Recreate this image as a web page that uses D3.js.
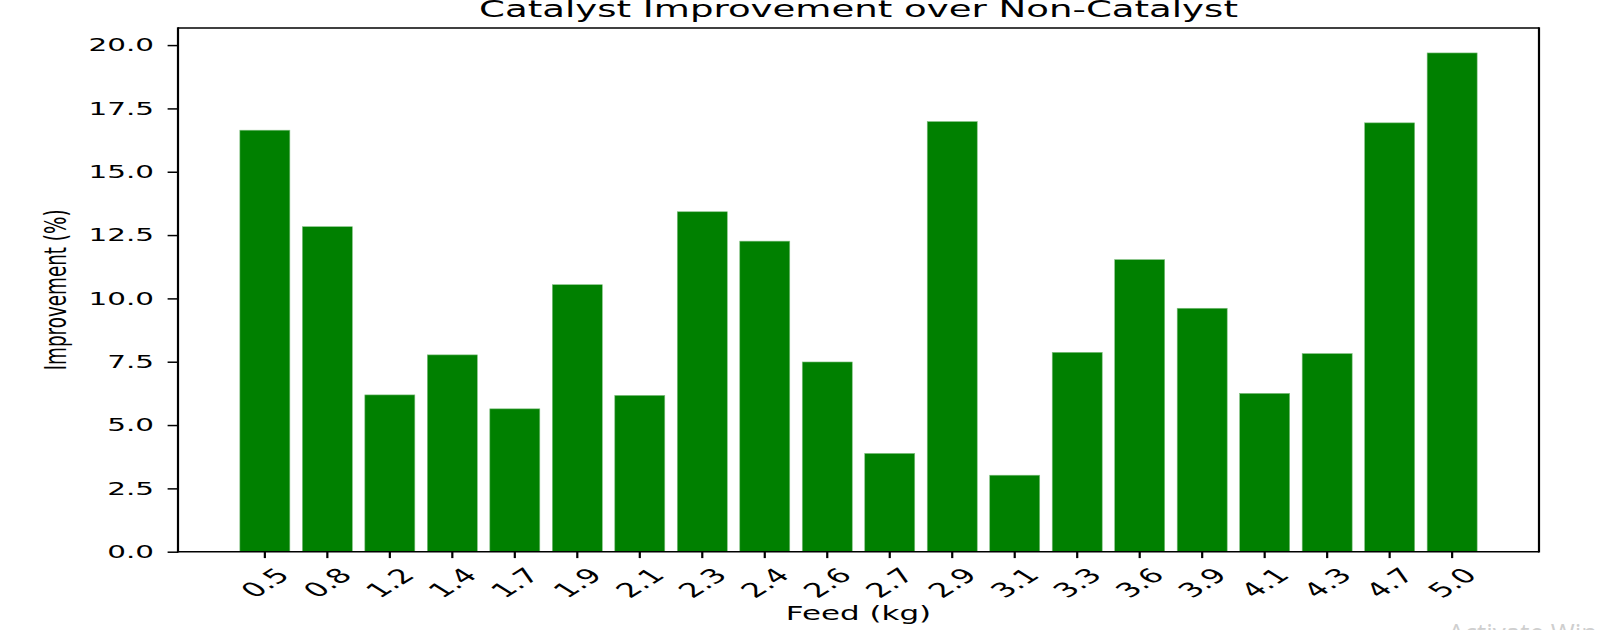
<!DOCTYPE html>
<html>
<head>
<meta charset="utf-8">
<script src="https://cdn.jsdelivr.net/npm/d3@7"></script>
<style>
  html, body { margin: 0; padding: 0; background: #fff; overflow: hidden; }
  text { font-family: "DejaVu Sans", sans-serif; fill: #000; }
</style>
</head>
<body>
<div id="chart"></div>
<script>
// values
const feeds = ['0.5', '0.8', '1.2', '1.4', '1.7', '1.9', '2.1', '2.3', '2.4', '2.6',
               '2.7', '2.9', '3.1', '3.3', '3.6', '3.9', '4.1', '4.3', '4.7', '5.0'];
const improvement = [16.64, 12.83, 6.19, 7.77, 5.64, 10.54, 6.17, 13.42, 12.26, 7.49,
                     3.88, 16.98, 3.02, 7.87, 11.53, 9.61, 6.25, 7.82, 16.93, 19.69];
const yTicks = [0, 2.5, 5, 7.5, 10, 12.5, 15, 17.5, 20];

const title = 'Catalyst Improvement over Non-Catalyst';
const xTitle = 'Feed (kg)';
const yTitle = 'Improvement (%)';

const width = 1597, height = 630;
const margin = { top: 28, right: 58, bottom: 78.3, left: 178 };

// the source picture was stretched unevenly, so text is scaled the same way
const sx = 2.12, sy = 1.32;
const fontSize = 13.9;

const data = feeds.map((f, i) => ({ feed: f, value: improvement[i] }));

const svg = d3.select('#chart').append('svg')
    .attr('width', width)
    .attr('height', height);

const x = d3.scaleBand()
    .domain(feeds)
    .range([margin.left, width - margin.right])
    .paddingInner(0.2)
    .paddingOuter(0.99);

const y = d3.scaleLinear()
    .domain([0, d3.max(improvement) * 1.05])
    .range([height - margin.bottom, margin.top]);

const x0 = margin.left, x1 = width - margin.right;
const y0 = height - margin.bottom, y1 = margin.top;

// bars
svg.append('g')
    .selectAll('rect')
    .data(data)
    .enter().append('rect')
    .attr('x', d => x(d.feed))
    .attr('width', x.bandwidth())
    .attr('y', d => y(d.value))
    .attr('height', d => y(0) - y(d.value))
    .style('fill', '#008000')
    .style('stroke', '#7fbf7f')
    .style('stroke-width', 0.6);

// y axis
const yAxis = svg.append('g')
    .attr('transform', `translate(${x0},0)`)
    .call(d3.axisLeft(y).tickValues(yTicks).tickSize(10.4).tickSizeOuter(0).tickFormat(d3.format('.1f')));
yAxis.select('.domain').remove();
yAxis.selectAll('.tick line').style('stroke', '#000').style('stroke-width', 1.5);
yAxis.selectAll('.tick text')
    .attr('x', 0)
    .attr('dy', '0.32em')
    .attr('transform', `translate(-24,0) scale(${sx},${sy})`)
    .style('font-size', fontSize + 'px')
    .style('font-family', '"DejaVu Sans", sans-serif');

// x axis
const xAxis = svg.append('g')
    .attr('transform', `translate(0,${y0})`)
    .call(d3.axisBottom(x).tickSize(6.4).tickSizeOuter(0));
xAxis.select('.domain').remove();
xAxis.selectAll('.tick line').style('stroke', '#000').style('stroke-width', 2.2);
xAxis.selectAll('.tick text')
    .attr('y', 0)
    .attr('dy', '0.35em')
    .attr('text-anchor', 'middle')
    .attr('transform', `translate(0,31) scale(${sx},${sy}) rotate(-45)`)
    .style('font-size', '15.2px')
    .style('font-family', '"DejaVu Sans", sans-serif');

// spines
const spines = svg.append('g').style('stroke', '#000');
spines.append('line').attr('x1', x0).attr('x2', x0).attr('y1', y1 - 0.75).attr('y2', y0 + 0.75).style('stroke-width', 2.2);
spines.append('line').attr('x1', x1).attr('x2', x1).attr('y1', y1 - 0.75).attr('y2', y0 + 0.75).style('stroke-width', 2.2);
spines.append('line').attr('x1', x0).attr('x2', x1).attr('y1', y1).attr('y2', y1).style('stroke-width', 1.5);
spines.append('line').attr('x1', x0).attr('x2', x1).attr('y1', y0).attr('y2', y0).style('stroke-width', 1.5);

// titles
svg.append('text')
    .attr('text-anchor', 'middle')
    .attr('transform', `translate(${(x0 + x1) / 2},16.5) scale(${sx},${sy})`)
    .style('font-size', '17.5px')
    .text(title);

svg.append('text')
    .attr('text-anchor', 'middle')
    .attr('transform', `translate(${(x0 + x1) / 2},620) scale(${sx},${sy})`)
    .style('font-size', '14.6px')
    .text(xTitle);

svg.append('text')
    .attr('text-anchor', 'middle')
    .attr('transform', `translate(66,${(y0 + y1) / 2}) scale(${sx},${sy}) rotate(-90)`)
    .style('font-size', fontSize + 'px')
    .text(yTitle);

// faint desktop watermark seen in the corner of the reference
svg.append('text')
    .attr('x', 1448)
    .attr('y', 642)
    .style('font-family', '"Open Sans", sans-serif')
    .style('font-size', '26px')
    .style('fill', '#cfcfcf')
    .text('Activate Windows');
</script>
</body>
</html>
